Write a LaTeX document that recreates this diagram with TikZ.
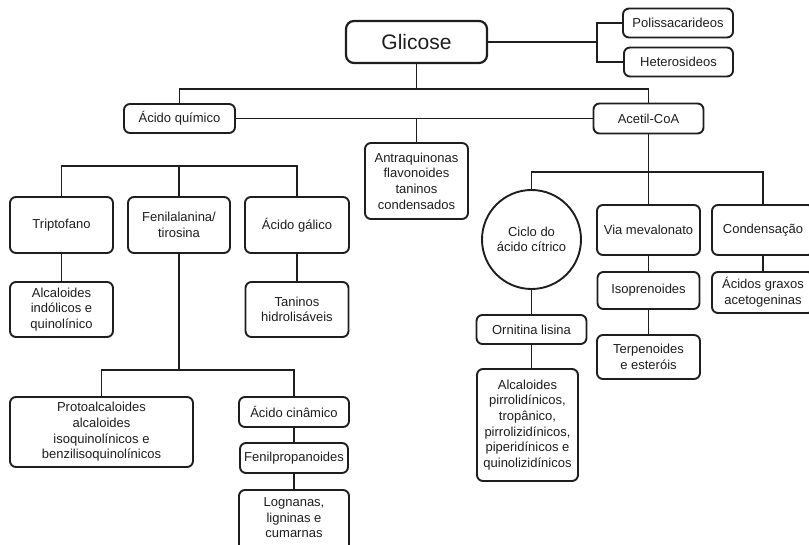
\documentclass[tikz,border=0pt]{standalone}
\usepackage{fontspec}
\setmainfont{Liberation Sans}
\definecolor{ink}{HTML}{1E1E1E}
\begin{document}
\begin{tikzpicture}[x=1pt,y=-1pt,
  box/.style={draw=ink, text=ink, line width=1.9pt, rounded corners=6pt, align=center,
    font=\fontsize{13}{15.7}\selectfont, inner sep=0pt},
  conn/.style={draw=ink, line width=1.8pt}]
\useasboundingbox (0,0) rectangle (809,545);
\clip (0,0) rectangle (809,545);
\fill[white] (0,0) rectangle (809,545);
% top
\node[box, line width=2.2pt, rounded corners=8pt, minimum width=141pt, minimum height=42pt, font=\fontsize{21}{24}\selectfont] (glic) at (416.5,42) {Glicose};
\node[box, minimum width=110pt, minimum height=29pt] (poli) at (678,23) {Polissacarideos};
\node[box, minimum width=109pt, minimum height=29pt] (hetero) at (678.5,62) {Heterosideos};
\node[box, minimum width=111pt, minimum height=29pt] (acq) at (179.5,118.5) {Ácido químico};
\node[box, minimum width=110pt, minimum height=30pt] (acetil) at (648.5,118.5) {Acetil-CoA};
\node[box, minimum width=103pt, minimum height=76pt] (antra) at (416.5,181) {Antraquinonas\\flavonoides\\taninos\\condensados};
% left tree
\node[box, minimum width=103pt, minimum height=56pt] (trip) at (61.5,225) {Triptofano};
\node[box, minimum width=102pt, minimum height=56pt] (feni) at (179,225) {Fenilalanina/\\tirosina};
\node[box, minimum width=104pt, minimum height=56pt] (galico) at (297,225) {Ácido gálico};
\node[box, minimum width=103pt, minimum height=55pt] (alcind) at (61.5,309.5) {Alcaloides\\indólicos e\\quinolínico};
\node[box, minimum width=103pt, minimum height=55pt] (taninos) at (297,309.5) {Taninos\\hidrolisáveis};
\node[box, minimum width=183pt, minimum height=70pt] (proto) at (101.5,432) {Protoalcaloides\\alcaloides\\isoquinolínicos e\\benzilisoquinolínicos};
\node[box, minimum width=110pt, minimum height=30pt] (cinam) at (294,412) {Ácido cinâmico};
\node[box, minimum width=108pt, minimum height=30pt] (fenilp) at (294,458) {Fenilpropanoides};
\node[box, minimum width=110pt, minimum height=62pt] (logn) at (294,521) {};
\node[text=ink, align=center, font=\fontsize{13}{15.5}\selectfont, inner sep=0pt] (lognt) at (294,518) {Lognanas,\\ligninas e\\cumarnas};
% right tree
\node[circle, draw=ink, text=ink, line width=1.9pt, minimum size=99pt, inner sep=0pt, align=center, font=\fontsize{13}{15.7}\selectfont] (circ) at (531.5,239.5) {Ciclo do\\ácido cítrico};
\node[box, minimum width=103pt, minimum height=50pt] (via) at (648.5,230) {Via mevalonato};
\node[box, minimum width=102pt, minimum height=50pt] (cond) at (763,230) {Condensação};
\node[box, minimum width=102pt, minimum height=37pt] (iso) at (648.5,290.5) {Isoprenoides};
\node[box, minimum width=102pt, minimum height=41pt] (acgr) at (763,292.5) {Ácidos graxos\\acetogeninas};
\node[box, minimum width=103pt, minimum height=44pt] (terp) at (648.5,357) {Terpenoides\\e esteróis};
\node[box, minimum width=110pt, minimum height=29pt] (ornit) at (531.5,329.5) {Ornitina lisina};
\node[box, minimum width=101pt, minimum height=112pt] (alcp) at (527.5,425) {Alcaloides\\pirrolidínicos,\\tropânico,\\pirrolizidínicos,\\piperidínicos e\\quinolizidínicos};
% junctions
\coordinate (gb) at (597,42);
\coordinate (gj) at (416.5,89);
\coordinate (aj) at (416.5,118.5);
\coordinate (lj) at (179,166);
\coordinate (fj) at (179,370);
\coordinate (rj) at (648.5,172);
% connectors
\draw[conn] (glic.east) -- (gb);
\draw[conn] (poli.west) -| (gb) |- (hetero.west);
\draw[conn] (glic.south) -- (gj);
\draw[conn] (acq.north) |- (gj) -| (acetil.north);
\draw[conn] (acq.east) -- (acetil.west);
\draw[conn] (aj) -- (antra.north);
\draw[conn] (trip.north) |- (lj) -| (galico.north);
\draw[conn] (lj) -- (feni.north);
\draw[conn] (trip.south) -- (alcind.north);
\draw[conn] (galico.south) -- (taninos.north);
\draw[conn] (feni.south) -- (fj);
\draw[conn] (proto.north) |- (fj) -| (cinam.north);
\draw[conn] (cinam.south) -- (fenilp.north);
\draw[conn] (fenilp.south) -- (logn.north);
\draw[conn] (acetil.south) -- (rj);
\draw[conn] (circ.north) |- (rj) -| (cond.north);
\draw[conn] (rj) -- (via.north);
\draw[conn] (via.south) -- (iso.north);
\draw[conn] (iso.south) -- (terp.north);
\draw[conn] (cond.south) -- (acgr.north);
\draw[conn] (circ.south) -- (ornit.north);
\draw[conn] (ornit.south) -- (ornit.south |- alcp.north);
\end{tikzpicture}
\end{document}
